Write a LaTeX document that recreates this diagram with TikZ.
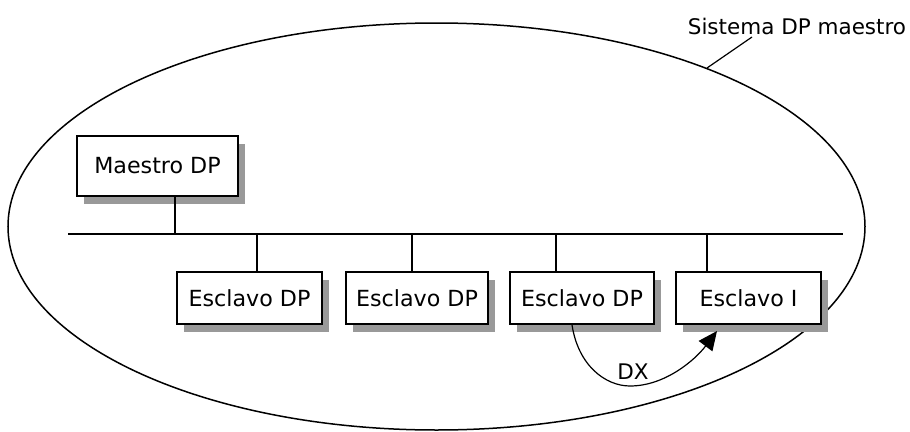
\documentclass[tikz,border=0pt]{standalone}
\usepackage{fontspec}
\setmainfont{DejaVu Sans}
\usetikzlibrary{shadows,arrows.meta}

\tikzset{
	dpbox/.style={shape=rectangle,draw=black,line width=1.6pt,fill=white,inner sep=0pt,
		font=\fontsize{22.2}{24}\selectfont,
		drop shadow={shadow xshift=7pt,shadow yshift=-8pt,fill=black!40,opacity=1}},
}

\begin{document}
\begin{tikzpicture}[x=1pt,y=-1pt,font=\fontsize{21.5}{24}\selectfont]
	\useasboundingbox (0,0) rectangle (910,431);
	
	% sistema
	\draw[line width=1.5pt] (436.5,226.5) ellipse [x radius=428.5, y radius=203.5];
	\node (sys) at (797,26) {Sistema DP maestro};
	\coordinate (rim) at (707,68);
	\coordinate (tag) at (752,37);
	\draw[line width=1.2pt] (rim) -- (tag);
	
	% bus
	\coordinate (busl) at (68,234);
	\coordinate (busr) at (843,234);
	\draw[line width=1.6pt] (busl) -- (busr);
	
	\node[dpbox,minimum width=161pt,minimum height=60pt] (maestro) at (157.5,166) {Maestro DP};
	\node[dpbox,minimum width=145pt,minimum height=52pt] (esc1) at (249.5,298) {Esclavo DP};
	\node[dpbox,minimum width=142pt,minimum height=52pt] (esc2) at (417,298)   {Esclavo DP};
	\node[dpbox,minimum width=144pt,minimum height=52pt] (esc3) at (582,298)   {Esclavo DP};
	\node[dpbox,minimum width=145pt,minimum height=52pt] (esc4) at (748.5,298) {Esclavo I};
	
	\coordinate (t0) at (175,234);
	\coordinate (t1) at (257,234);
	\coordinate (t2) at (412,234);
	\coordinate (t3) at (556,234);
	\coordinate (t4) at (707,234);
	\draw[line width=1.6pt] (t0) -- (t0 |- maestro.south);
	\draw[line width=1.6pt] (t1) -- (t1 |- esc1.north);
	\draw[line width=1.6pt] (t2) -- (t2 |- esc2.north);
	\draw[line width=1.6pt] (t3) -- (t3 |- esc3.north);
	\draw[line width=1.6pt] (t4) -- (t4 |- esc4.north);
	
	% intercambio directo
	\coordinate (dxa) at (572,0);
	\coordinate (dxb) at (717,331);
	\draw[line width=1.2pt,-{Triangle[length=19pt,width=17pt]}] (dxa |- esc3.south)
		.. controls (578,365) and (605,386) .. (630,386)
		.. controls (665,386) and (695,360) .. (dxb);
	\node (dx) at (633,372) {DX};
	
\end{tikzpicture}
\end{document}
